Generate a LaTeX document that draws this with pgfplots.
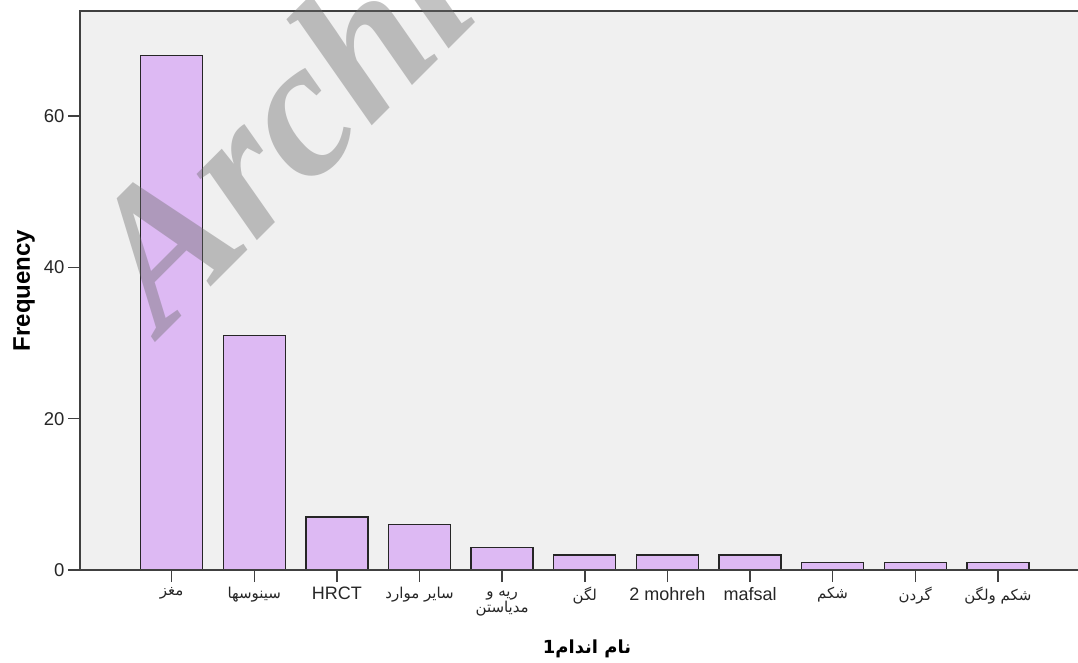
\documentclass[border=0pt]{standalone}
\usepackage{pgfplots}
\pgfplotsset{compat=1.18}
\usepackage{fontspec}
\setmainfont{Liberation Sans}
\newfontfamily\arabicfont[Script=Arabic]{DejaVu Sans}
\newfontfamily\wmfont{Liberation Serif}
\TeXXeTstate=1
\definecolor{barfill}{RGB}{221,185,243}
\definecolor{bgfill}{RGB}{240,240,240}
\definecolor{axisgray}{RGB}{64,64,64}
\newcommand{\arf}{\arabicfont\fontsize{15}{15}\selectfont}
\begin{document}
\begin{tikzpicture}
\path[use as bounding box] (-80pt,-92pt) rectangle (998pt,570pt);
\begin{axis}[
  at={(0pt,0pt)}, anchor=south west,
  width=998pt, height=559pt, scale only axis,
  xmin=-1.11, xmax=10.97, ymin=0, ymax=73.9,
  clip=false,
  axis background/.style={fill=bgfill},
  axis line style={draw=none},
  ytick={0,20,40,60},
  xtick={0,...,10},
  xticklabels={
    {\arf\beginR مغز\endR},
    {\arf\beginR سینوسها\endR},
    HRCT,
    {\arf\beginR سایر موارد\endR},
    {\rule{0pt}{9pt}{\arf\beginR ریه و\endR}\\{\arf\beginR مدیاستن\endR}},
    {\arf\beginR لگن\endR},
    2 mohreh,
    mafsal,
    {\arf\beginR شکم\endR},
    {\arf\beginR گردن\endR},
    {\arf\beginR شکم ولگن\endR}},
  xtick pos=left, ytick pos=left,
  tick align=outside, major tick length=12pt,
  every tick/.style={axisgray, line width=1.5pt},
  /pgf/number format/assume math mode=true,
  yticklabel style={font=\fontsize{18.5}{18.5}\selectfont, text=black!85},
  xticklabel style={align=center, font=\fontsize{18}{15}\selectfont, text=black!85, inner ysep=2pt, yshift=-3pt},
  every axis y label/.style={at={(axis description cs:-0.056,0.5)}, rotate=90, anchor=center, font=\bfseries\fontsize{24}{24}\selectfont},
  every axis x label/.style={at={(axis description cs:0.508,-0.141)}, anchor=center},
  ylabel={Frequency},
  xlabel={{\arabicfont\bfseries\fontsize{18}{18}\selectfont\beginR نام اندام1\endR}},
]
\addplot[ybar, bar width=62pt, bar shift=0pt, fill=barfill, draw=black!85, line width=1.4pt]
  coordinates {(0,68)(1,31)(2,7)(3,6)(4,3)(5,2)(6,2)(7,2)(8,1)(9,1)(10,1)};
\draw[axisgray, line width=2pt] (rel axis cs:1,1) -- (rel axis cs:0,1) -- (rel axis cs:0,0) -- (rel axis cs:1,0);
\end{axis}
\node[rotate=45, anchor=base west, font=\wmfont\bfseries\itshape\fontsize{195}{195}\selectfont, text=black!59, opacity=0.4] at (80pt,232pt) {Archive of SID};
\end{tikzpicture}
\end{document}
